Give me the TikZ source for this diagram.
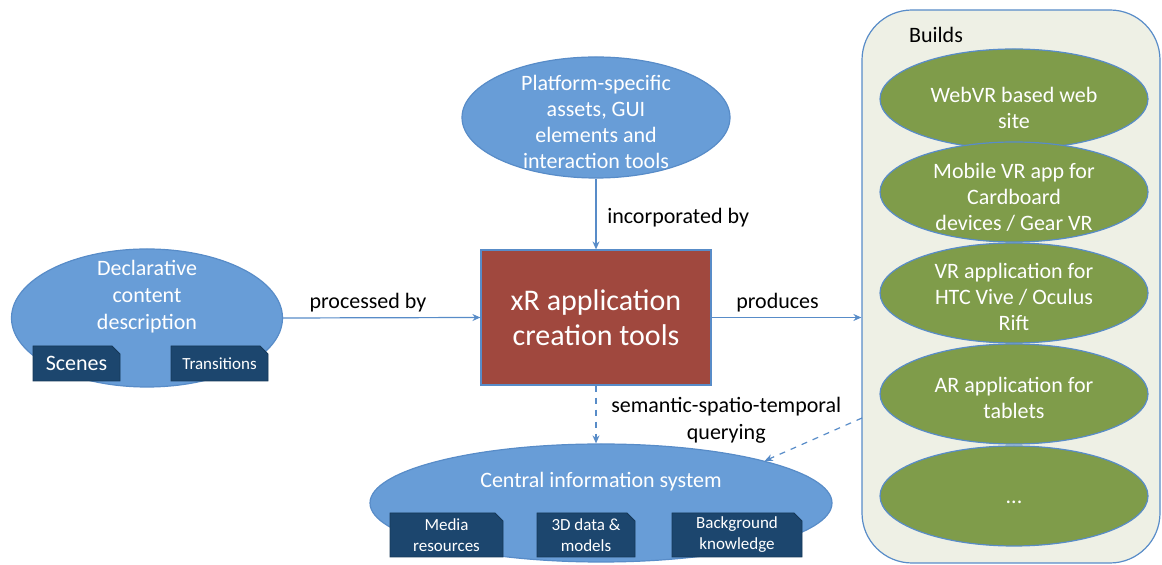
\documentclass[tikz,border=0pt]{standalone}
\usepackage{fontspec}
\setmainfont{Carlito}
\usetikzlibrary{arrows.meta,shapes.geometric,shapes.misc}

\definecolor{bubbleblue}{RGB}{104,157,215}
\definecolor{edgeblue}{RGB}{88,140,200}
\definecolor{tabnavy}{RGB}{28,70,110}
\definecolor{brick}{RGB}{160,72,62}
\definecolor{olive}{RGB}{127,156,74}
\definecolor{buildsbg}{RGB}{238,240,229}

\begin{document}
\begin{tikzpicture}[
    x=0.5pt, y=-0.5pt,
    every node/.style={font=\fontsize{11}{13.5}\selectfont},
    bubble/.style={ellipse, draw=edgeblue, line width=0.6pt, fill=bubbleblue, inner sep=0pt},
    inside/.style={text=white, align=center},
    build/.style={ellipse, draw=edgeblue, line width=0.6pt, fill=olive,
      minimum width=134pt, minimum height=50pt, inner sep=0pt},
    build label/.style={inside, inner sep=0pt, font=\fontsize{11}{13}\selectfont},
    tab/.style={chamfered rectangle, chamfered rectangle corners=north east,
      chamfered rectangle xsep=2pt, chamfered rectangle ysep=2pt,
      fill=tabnavy, draw=tabnavy!80!black, text=white, inner sep=0pt, align=center,
      minimum height=17.5pt, font=\fontsize{8.5}{10.5}\selectfont},
    link/.style={draw=edgeblue, line width=0.6pt, -{Stealth[length=4pt,width=3.5pt]}},
    query/.style={link, dashed},
    said/.style={text=black}
  ]
  \useasboundingbox (0,0) rectangle (1162,565);

  % builds panel
  \node (builds) [draw=edgeblue, line width=0.6pt, fill=buildsbg, rounded corners=25pt,
    minimum width=149pt, minimum height=276.5pt, inner sep=0pt] at (1011,286.5) {};
  \node (builds-title) at (936,35) {Builds};
  \node (web)    [build, label={[build label, yshift=-4.25pt]center:WebVR based web\\site}] at (1014,99) {};
  \node (mobile) [build, label={[build label, yshift=-2.5pt]center:Mobile VR app for\\Cardboard\\devices / Gear VR}] at (1014,192) {};
  \node (vive)   [build, label={[build label, yshift=-2pt]center:VR application for\\HTC Vive / Oculus\\Rift}] at (1014,293) {};
  \node (ar)     [build, label={[build label, yshift=-1.75pt]center:AR application for\\tablets}] at (1014,394) {};
  \node (more)   [build, label={[build label, yshift=-3pt]center:...}] at (1014,496) {};

  % inputs
  \node (decl) [bubble, minimum width=135.5pt, minimum height=69pt] at (147,318) {};
  \node (decl-text) [inside] at (147,297) {Declarative\\content\\description};
  \node (scenes) [tab, minimum width=43.5pt, font=\fontsize{11}{13}\selectfont] at (76.5,363.5) {Scenes};
  \node (trans)  [tab, minimum width=48.5pt] at (219.5,363.5) {Transitions};

  \node (plat) [bubble, minimum width=134pt, minimum height=60.5pt] at (596,117.5) {};
  \node (plat-text) [inside, font=\fontsize{11}{13}\selectfont] at (596,122) {Platform-specific\\assets, GUI\\elements and\\interaction tools};

  % tools
  \node (tools) [fill=brick, draw=edgeblue, line width=0.6pt, text=white, align=center,
    minimum width=115pt, minimum height=67.5pt, inner sep=0pt,
    font=\fontsize{15}{17.5}\selectfont] at (596,317.5) {xR application\\creation tools};

  % information system
  \node (cis) [bubble, minimum width=231pt, minimum height=59pt] at (601,503) {};
  \node (cis-text) [inside] at (601,482) {Central information system};
  \node (media) [tab, minimum width=56.5pt, minimum height=22pt] at (446.5,535) {Media\\resources};
  \node (data)  [tab, minimum width=49pt, minimum height=22pt] at (586,535) {3D data \&\\models};
  \node (know)  [tab, minimum width=65pt, minimum height=22pt] at (737,535) {Background\\knowledge};

  % connectors
  \draw[link] (decl.east) -- node[said, above=-1pt, pos=0.43] {processed by} (tools.west);
  \draw[link] (plat.south) -- node[said, right=2pt, pos=0.55] {incorporated by} (tools.north);
  \draw[link] (tools.east) -- node[said, above=-1pt, pos=0.44] {produces} (tools.east -| builds.west);
  \draw[query] (tools.south) -- node[said, right=4pt, align=center, pos=0.6] {semantic-spatio-temporal\\querying} (tools.south |- cis.north);
  \coordinate (from-builds) at (862,418);
  \draw[query] (from-builds) -- (cis.north east);
\end{tikzpicture}
\end{document}
